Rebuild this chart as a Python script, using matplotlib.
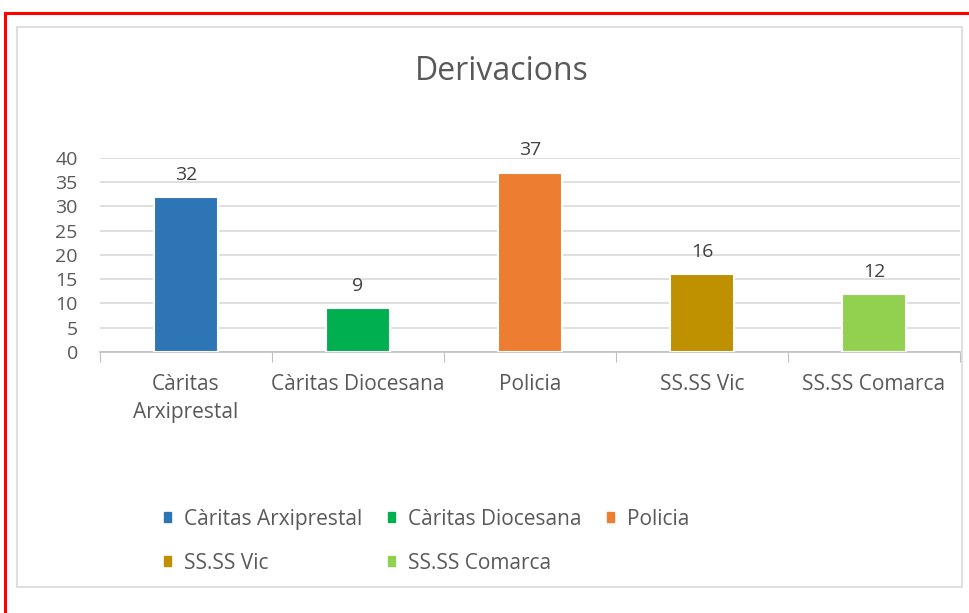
import matplotlib
matplotlib.use("Agg")
import matplotlib.pyplot as plt
import matplotlib.patches as patches
from matplotlib.lines import Line2D
import numpy as np

# Dades
categories = ["Càritas Arxiprestal", "Càritas Diocesana", "Policia", "SS.SS Vic", "SS.SS Comarca"]
tick_labels = ["Càritas\nArxiprestal", "Càritas Diocesana", "Policia", "SS.SS Vic", "SS.SS Comarca"]
valors = [32, 9, 37, 16, 12]
colors = ["#2E75B6", "#00B050", "#ED7D31", "#BF9000", "#92D050"]

plt.rcParams['font.family'] = ['Open Sans', 'DejaVu Sans']
text_color = "#595959"

W, H = 970, 613
fig = plt.figure(figsize=(W / 100, H / 100), dpi=100)
fig.patch.set_facecolor("white")

# marc vermell (captura) i marc gris del grafic
fig.add_artist(Line2D([5 / W, 1], [1 - 13 / H, 1 - 13 / H], color="#FF0000", lw=2.2, transform=fig.transFigure))
fig.add_artist(Line2D([5 / W, 5 / W], [0, 1 - 13 / H], color="#FF0000", lw=2.2, transform=fig.transFigure))
fig.add_artist(patches.Rectangle((17 / W, 1 - 587 / H), (962 - 17) / W, (587 - 27) / H,
                                 transform=fig.transFigure, fill=False, edgecolor="#D9D9D9", lw=1.2))

ax = fig.add_axes([100 / W, 1 - 352 / H, 860 / W, (352 - 158) / H])
x = np.arange(len(categories))
bars = ax.bar(x, valors, width=0.37, color=colors, edgecolor="white", linewidth=1.5, zorder=3)

for xi, v in zip(x, valors):
    ax.annotate(str(v), (xi, v), xytext=(0, 9.5), textcoords="offset points",
                ha="center", va="bottom", fontsize=14, color="#404040")

ax.set_ylim(0, 40)
ax.set_xlim(-0.5, len(categories) - 0.5)
ax.set_yticks(range(0, 41, 5))
ax.yaxis.grid(True, color="#D9D9D9", lw=1.2, zorder=0)
ax.set_axisbelow(True)
ax.tick_params(axis="y", length=0, labelsize=14, labelcolor=text_color, pad=16)

ax.set_xticks(np.arange(-0.5, len(categories), 1.0))
ax.set_xticklabels([])
ax.tick_params(axis="x", which="major", length=7, color="#BFBFBF", direction="out")
ax.set_xticks(x, minor=True)
ax.set_xticklabels(tick_labels, minor=True, linespacing=1.4)
ax.tick_params(axis="x", which="minor", length=0, labelsize=15, labelcolor=text_color, pad=16)

for s in ["top", "right", "left"]:
    ax.spines[s].set_visible(False)
ax.spines["bottom"].set_color("#BFBFBF")
ax.spines["bottom"].set_linewidth(1.2)

fig.text(502 / W, 1 - 71 / H, "Derivacions", ha="center", va="center", fontsize=23, color=text_color)

# llegenda en files: l'ordre de matplotlib és per columnes
order = [0, 3, 1, 4, 2]
handles = [patches.Rectangle((0, 0), 1, 1, color=colors[i]) for i in order]
fig.legend(handles, [categories[i] for i in order], ncol=3, loc="upper left",
           bbox_to_anchor=(145 / W, 1 - 490 / H),
           frameon=False, fontsize=15, labelcolor=text_color, handlelength=0.35, handleheight=0.35,
           handletextpad=0.6, columnspacing=1.25, labelspacing=1.1)

fig.savefig("out.png", dpi=100)
